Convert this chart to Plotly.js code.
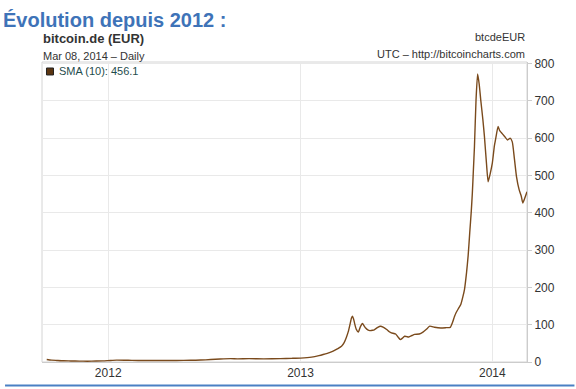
<!DOCTYPE html>
<html>
<head>
<meta charset="utf-8">
<script src="https://cdn.plot.ly/plotly-3.0.1.min.js"></script>
<style>
html,body{margin:0;padding:0;background:#fff;}
#chart{width:576px;height:389px;}
</style>
</head>
<body>
<div id="chart"></div>
<script>
// ---- data ----
const dates = [
"2011-09-06","2011-09-15","2011-09-25","2011-10-08","2011-10-22","2011-11-07","2011-11-22","2011-12-09","2011-12-22",
"2012-01-05","2012-01-17","2012-02-01","2012-02-15","2012-03-10","2012-04-15","2012-05-10","2012-06-06","2012-06-25",
"2012-07-14","2012-08-01","2012-08-21","2012-09-03","2012-09-25","2012-10-23","2012-11-24","2012-12-15",
"2013-01-01","2013-01-22","2013-02-05","2013-02-13","2013-02-25","2013-03-04","2013-03-12","2013-03-20","2013-03-25",
"2013-03-29","2013-04-02","2013-04-05","2013-04-08","2013-04-10","2013-04-12","2013-04-14","2013-04-17","2013-04-21",
"2013-04-25","2013-04-29","2013-05-02","2013-05-05","2013-05-09","2013-05-13","2013-05-18","2013-05-22","2013-05-28",
"2013-06-02","2013-06-08","2013-06-14","2013-06-19","2013-06-23","2013-07-01","2013-07-05","2013-07-10","2013-07-14",
"2013-07-18","2013-07-22","2013-07-26","2013-08-01","2013-08-06","2013-08-15","2013-08-22","2013-08-28","2013-09-04",
"2013-09-13","2013-09-25","2013-10-05","2013-10-13","2013-10-17","2013-10-21","2013-10-24","2013-10-28","2013-11-02",
"2013-11-06","2013-11-09","2013-11-13","2013-11-16","2013-11-19","2013-11-22","2013-11-24","2013-11-26","2013-11-28",
"2013-12-01","2013-12-04","2013-12-07","2013-12-10","2013-12-14","2013-12-17","2013-12-21","2013-12-24","2013-12-28",
"2014-01-01","2014-01-05","2014-01-07","2014-01-12","2014-01-15","2014-01-18","2014-01-24","2014-01-30","2014-02-04",
"2014-02-08","2014-02-12","2014-02-16","2014-02-21","2014-02-25","2014-02-28","2014-03-04","2014-03-08"
];
const sma10 = [
6.7,5.0,4.2,3.2,2.8,2.3,2.2,2.6,3.0,
4.2,5.0,4.8,4.3,4.0,3.9,4.0,4.5,5.2,
6.5,8.0,9.0,8.5,9.0,8.5,9.0,9.8,
10.5,13,17,20,25,29,35,42,52,
65,82,100,118,123,115,103,88,80,
95,103,97,91,86,84,85,87,93,
96,93,87,81,78,75,68,60,64,
69,68,67,71,74,75,80,87,96,
93,91,92,93,105,122,132,142,154,
175,194,240,285,346,405,453,515,577,
702,772,745,702,650,604,530,483,505,
533,580,595,631,620,615,605,595,600,
590,545,497,462,445,426,440,456.1
];
const yTicks = [0,100,200,300,400,500,600,700,800];
const xTickVals = ["2012-01-01","2013-01-01","2014-01-01"];
const xTickText = ["2012","2013","2014"];
const chartTitle = "Évolution depuis 2012 :";
const symbolName = "bitcoin.de (EUR)";
const dateLine = "Mar 08, 2014 \u2013 Daily";
const symbolCode = "btcdeEUR";
const sourceLine = "UTC \u2013 http://bitcoincharts.com";
const legendText = "SMA (10): 456.1";

// ---- layout helpers (pixel -> paper) ----
const L = 42, R = 48.5, T = 62, B = 26.5, W = 576, H = 389;
const PW = W - L - R, PH = H - T - B;
const px = x => (x - L) / PW;
const py = y => (H - B - y) / PH;
const FONT = "Liberation Sans, Arial, sans-serif";

const trace = {
  x: dates, y: sma10, type: "scatter", mode: "lines",
  line: {color: "#7a4a1c", width: 1.4, shape: "spline", smoothing: 0.5},
  hoverinfo: "skip", showlegend: false
};

const ann = (text, x, y, opts) => Object.assign({
  text: text, xref: "paper", yref: "paper", x: px(x), y: py(y),
  xanchor: "left", yanchor: "middle", showarrow: false,
  font: {family: FONT, size: 11, color: "#333"}
}, opts || {});

const layout = {
  width: W, height: H,
  margin: {l: L, r: R, t: T, b: B, pad: 0},
  paper_bgcolor: "#fff", plot_bgcolor: "#fff",
  showlegend: false,
  font: {family: FONT, size: 11, color: "#333"},
  xaxis: {
    type: "date", range: ["2011-08-28", "2014-03-08"],
    tickvals: xTickVals, ticktext: xTickText,
    showgrid: true, gridcolor: "#e9e9e9", gridwidth: 1,
    showline: true, linecolor: "#cccccc", linewidth: 1,
    ticks: "", zeroline: false, fixedrange: true,
    tickfont: {family: FONT, size: 12, color: "#333"}
  },
  yaxis: {
    side: "right", range: [0, 804], tickvals: yTicks,
    showgrid: true, gridcolor: "#e9e9e9", gridwidth: 1,
    showline: true, linecolor: "#cccccc", linewidth: 1,
    ticks: "outside", ticklen: 4, tickcolor: "#cccccc",
    zeroline: false, fixedrange: true,
    tickfont: {family: FONT, size: 12, color: "#333"}
  },
  shapes: [
    {type: "rect", xref: "paper", yref: "paper", x0: 0, x1: 1, y0: 0, y1: 1,
     line: {color: "#d4d4d4", width: 1}, fillcolor: "rgba(0,0,0,0)", layer: "below"},
    {type: "line", xref: "paper", yref: "paper", x0: px(5), x1: px(575), y0: py(386), y1: py(386),
     line: {color: "#4a80c4", width: 2}},
    {type: "rect", xref: "paper", yref: "paper", x0: px(46.5), x1: px(53.5), y0: py(75), y1: py(68),
     line: {color: "#222", width: 1}, fillcolor: "#5b3511"}
  ],
  annotations: [
    ann(chartTitle, 1, 19.5, {font: {family: FONT, size: 20, color: "#3e73b8", weight: "bold"}}),
    ann("<b>" + symbolName + "</b>", 41, 38.5, {font: {family: FONT, size: 13, color: "#333"}}),
    ann(dateLine, 41, 56, {font: {family: FONT, size: 11, color: "#333"}}),
    ann(symbolCode, 527, 37, {xanchor: "right", font: {family: FONT, size: 11, color: "#333"}}),
    ann(sourceLine, 527, 54, {xanchor: "right", font: {family: FONT, size: 11, color: "#333"}}),
    ann(legendText, 57, 71.5, {font: {family: FONT, size: 11, color: "#1f4d4d"}})
  ]
};

Plotly.newPlot("chart", [trace], layout, {staticPlot: true, displayModeBar: false});
</script>
</body>
</html>
